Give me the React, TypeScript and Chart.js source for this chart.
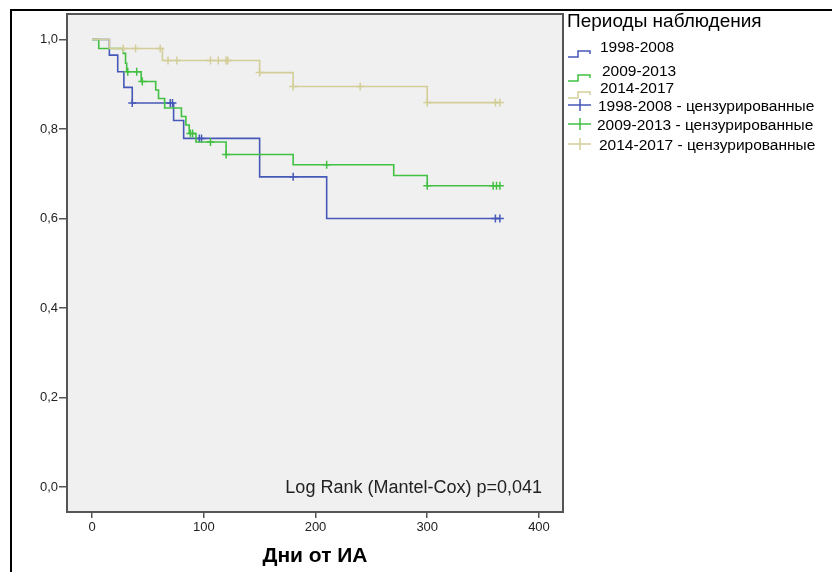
import React, { useEffect, useRef } from 'react';
import { Chart, registerables } from 'chart.js';

Chart.register(...registerables);

const FONT = '"Liberation Sans", Arial, sans-serif';

const groupNames = ['1998-2008', '2009-2013', '2014-2017'];
const groupColors = ['#4658b8', '#41c041', '#d3ce98'];
const legendTitle = 'Периоды наблюдения';
const censoredLabel = 'цензурированные';
const xAxisTitle = 'Дни от ИА';
const statText = 'Log Rank (Mantel-Cox) p=0,041';

const xTicks = [0, 100, 200, 300, 400];
const yTicks = [0, 0.2, 0.4, 0.6, 0.8, 1.0];

// 1998-2008
const g1Times = [0, 15.5, 23, 28.5, 36, 73, 82, 150, 210, 365];
const g1Surv = [1.0, 0.965, 0.928, 0.893, 0.858, 0.819, 0.779, 0.693, 0.6, 0.6];
const g1Censored = [36, 70, 72, 96, 98, 180, 361, 365];

// 2009-2013
const g2Times = [0, 6, 28, 30, 31, 44, 57, 59.5, 65, 80, 84, 87, 93, 120, 180, 270, 300, 365];
const g2Surv = [1.0, 0.98, 0.969, 0.947, 0.928, 0.906, 0.887, 0.868, 0.847, 0.828, 0.809, 0.79, 0.771, 0.743, 0.72, 0.696, 0.673, 0.673];
const g2Censored = [32, 40, 45, 88, 90, 106, 120, 210, 300, 359, 362, 365];

// 2014-2017
const g3Times = [0, 15.5, 63, 150, 180, 300, 365];
const g3Surv = [1.0, 0.98, 0.953, 0.926, 0.895, 0.859, 0.859];
const g3Censored = [28, 39, 61, 68, 76, 106, 113, 120, 121.5, 150, 180, 240, 300, 361, 365];

const allTimes = [g1Times, g2Times, g3Times];
const allSurv = [g1Surv, g2Surv, g3Surv];
const allCensored = [g1Censored, g2Censored, g3Censored];

function survAt(times: number[], surv: number[], t: number) {
  let s = surv[0];
  for (let i = 0; i < times.length; i++) if (times[i] <= t) s = surv[i];
  return s;
}

const decorPlugin = {
  id: 'kmDecor',
  beforeDraw(chart: any) {
    const { ctx, chartArea: a } = chart;
    ctx.save();
    ctx.fillStyle = '#f0f0f0';
    ctx.fillRect(a.left, a.top, a.right - a.left, a.bottom - a.top);
    ctx.restore();
  },
  afterDraw(chart: any) {
    const { ctx, chartArea: a } = chart;
    ctx.save();
    // plot frame
    ctx.strokeStyle = '#555';
    ctx.lineWidth = 2;
    ctx.strokeRect(a.left, a.top, a.right - a.left, a.bottom - a.top);
    // outer frame
    ctx.strokeStyle = '#000';
    ctx.lineWidth = 2;
    ctx.beginPath();
    ctx.moveTo(11, 572);
    ctx.lineTo(11, 10);
    ctx.lineTo(832, 10);
    ctx.stroke();

    // stat text
    ctx.fillStyle = '#222';
    ctx.font = `18px ${FONT}`;
    ctx.textAlign = 'right';
    ctx.textBaseline = 'middle';
    ctx.fillText(statText, 542, 488);

    // legend
    ctx.textAlign = 'left';
    ctx.fillStyle = '#000';
    ctx.font = `19px ${FONT}`;
    ctx.fillText(legendTitle, 567, 22);
    ctx.font = `15.5px ${FONT}`;
    const textY = [48, 72, 89, 107, 126, 146];
    const textX = [600, 602, 600, 598, 597, 599];
    ctx.lineWidth = 1.5;
    for (let i = 0; i < 3; i++) {
      const y = textY[i];
      ctx.strokeStyle = groupColors[i];
      ctx.beginPath();
      ctx.moveTo(568, y + 9);
      ctx.lineTo(578, y + 9);
      ctx.lineTo(578, y + 3);
      ctx.lineTo(590, y + 3);
      ctx.lineTo(590, y + 6);
      ctx.stroke();
      ctx.fillStyle = '#000';
      ctx.fillText(groupNames[i], textX[i], y);
    }
    for (let i = 0; i < 3; i++) {
      const y = textY[i + 3];
      ctx.strokeStyle = groupColors[i];
      ctx.beginPath();
      ctx.moveTo(568, y - 2);
      ctx.lineTo(591, y - 2);
      ctx.moveTo(580, y - 8);
      ctx.lineTo(580, y + 4);
      ctx.stroke();
      ctx.fillStyle = '#000';
      ctx.fillText(`${groupNames[i]} - ${censoredLabel}`, textX[i + 3], y);
    }
    ctx.restore();
  },
};

export default function App() {
  const ref = useRef<HTMLCanvasElement>(null);
  useEffect(() => {
    if (!ref.current) return;
    const datasets: any[] = [];
    for (let i = 0; i < 3; i++) {
      datasets.push({
        type: 'line',
        label: groupNames[i],
        data: allTimes[i].map((t, j) => ({ x: t, y: allSurv[i][j] })),
        borderColor: groupColors[i],
        borderWidth: 1.6,
        stepped: true,
        pointRadius: 0,
        fill: false,
        order: 3 - i,
      });
    }
    for (let i = 0; i < 3; i++) {
      datasets.push({
        type: 'scatter',
        label: `${groupNames[i]} - ${censoredLabel}`,
        data: allCensored[i].map((t) => ({ x: t, y: survAt(allTimes[i], allSurv[i], t) })),
        borderColor: groupColors[i],
        backgroundColor: groupColors[i],
        pointStyle: 'cross',
        pointRadius: 4,
        borderWidth: 1.5,
        showLine: false,
        order: 3 - i,
      });
    }
    const chart = new Chart(ref.current, {
      type: 'line',
      data: { datasets },
      plugins: [decorPlugin],
      options: {
        animation: false,
        responsive: false,
        layout: { padding: { left: 0, top: 14, right: 269, bottom: 0 } },
        plugins: { legend: { display: false }, tooltip: { enabled: false } },
        scales: {
          x: {
            type: 'linear',
            min: -22.4,
            max: 421.5,
            afterBuildTicks: (s: any) => {
              s.ticks = xTicks.map((v) => ({ value: v }));
            },
            afterFit: (s: any) => {
              s.height = 60;
            },
            grid: { drawOnChartArea: false, drawTicks: true, tickLength: 6, color: '#555', lineWidth: 1.5 },
            border: { display: false },
            ticks: {
              color: '#222',
              font: { size: 13, family: FONT },
              padding: 2,
              maxRotation: 0,
              autoSkip: false,
              callback: (v: any) => String(v),
            },
            title: {
              display: true,
              text: xAxisTitle,
              color: '#000',
              font: { size: 21, weight: 'bold', family: FONT },
              padding: { top: 0, bottom: 3 },
            },
          },
          y: {
            type: 'linear',
            min: -0.056,
            max: 1.057,
            afterBuildTicks: (s: any) => {
              s.ticks = yTicks.map((v) => ({ value: v }));
            },
            afterFit: (s: any) => {
              s.width = 67;
            },
            grid: { drawOnChartArea: false, drawTicks: true, tickLength: 8, color: '#555', lineWidth: 1.5 },
            border: { display: false },
            ticks: {
              color: '#222',
              font: { size: 13, family: FONT },
              padding: 1,
              autoSkip: false,
              callback: (v: any) => Number(v).toFixed(1).replace('.', ','),
            },
          },
        },
      },
    });
    return () => chart.destroy();
  }, []);
  return (
    <div style={{ position: 'absolute', left: 0, top: 0, width: 832, height: 572 }}>
      <canvas ref={ref} width={832} height={572} style={{ display: 'block' }} />
    </div>
  );
}
